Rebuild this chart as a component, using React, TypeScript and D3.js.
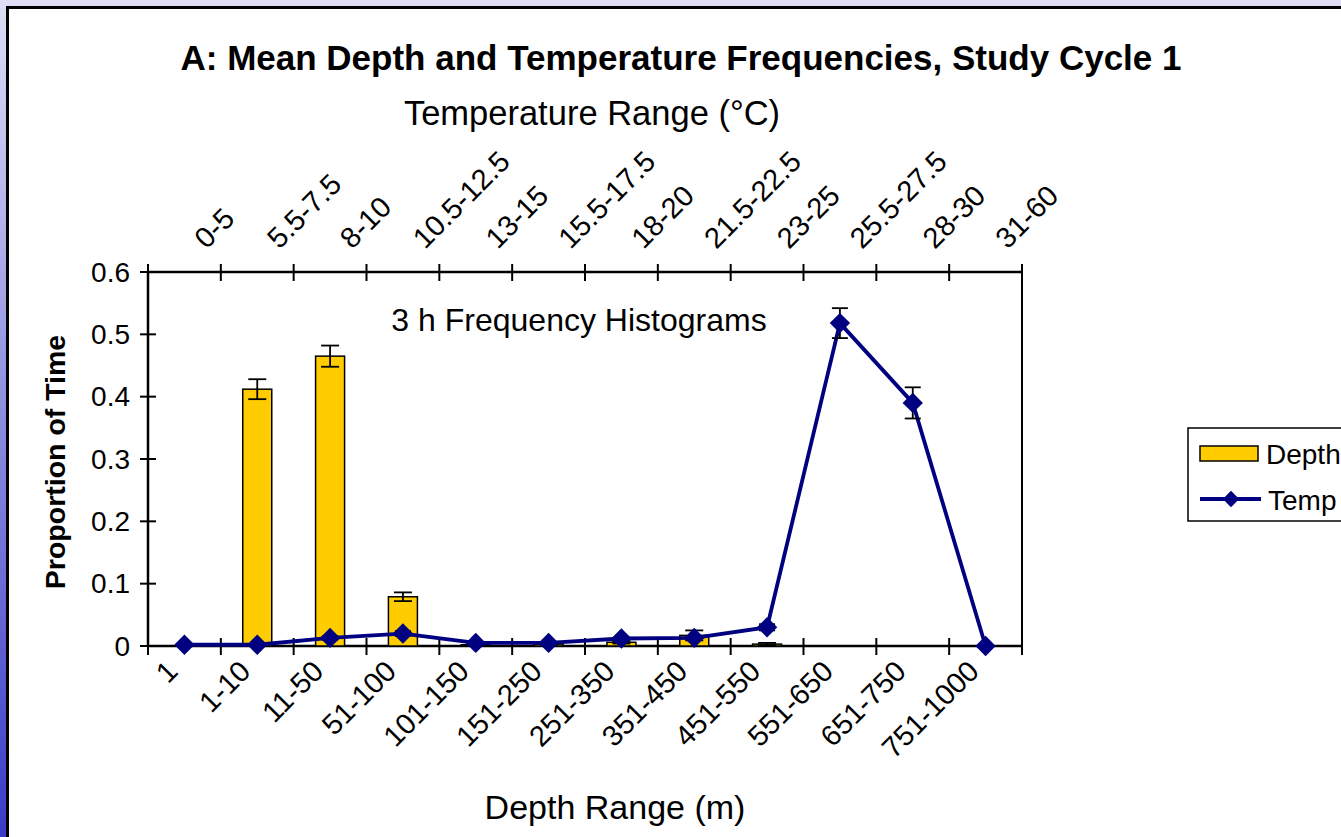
import { useEffect, useRef } from 'react';
import * as d3 from 'd3';

const depthRanges = ['1', '1-10', '11-50', '51-100', '101-150', '151-250', '251-350', '351-450', '451-550', '551-650', '651-750', '751-1000'];
const tempRanges = ['0-5', '5.5-7.5', '8-10', '10.5-12.5', '13-15', '15.5-17.5', '18-20', '21.5-22.5', '23-25', '25.5-27.5', '28-30', '31-60'];
const depthValues = [0, 0.412, 0.465, 0.079, 0.002, 0.003, 0.006, 0.017, 0.003, 0, 0, 0];
const depthErrors = [0, 0.016, 0.017, 0.007, 0.001, 0.001, 0.002, 0.008, 0.002, 0, 0, 0];
const tempValues = [0.002, 0.002, 0.013, 0.02, 0.005, 0.005, 0.012, 0.013, 0.03, 0.518, 0.39, 0];
const tempErrors = [0.001, 0.001, 0.003, 0.004, 0.001, 0.001, 0.002, 0.003, 0.005, 0.024, 0.025, 0];
const yTicks = [0, 0.1, 0.2, 0.3, 0.4, 0.5, 0.6];

const FONT = '"Liberation Sans", Arial, sans-serif';
const NAVY = '#000080';
const GOLD = '#FFCC00';

const App = () => {
  const svgRef = useRef<SVGSVGElement>(null);

  useEffect(() => {
    const svg = d3.select(svgRef.current);
    svg.selectAll('*').remove();
    const W = 1341, H = 837;
    const left = 148, right = 1022, top = 272, bottom = 646;

    // background gradient + white panel
    const grad = svg.append('defs').append('linearGradient')
      .attr('id', 'bg').attr('x1', 0).attr('y1', 0).attr('x2', 0).attr('y2', 1);
    grad.append('stop').attr('offset', '0%').attr('stop-color', '#dedef6');
    grad.append('stop').attr('offset', '100%').attr('stop-color', '#3a3ac8');
    svg.append('rect').attr('width', W).attr('height', H).attr('fill', 'url(#bg)');
    svg.append('rect').attr('x', 7.5).attr('y', 7.5).attr('width', W + 20).attr('height', H + 20)
      .attr('fill', '#fff').attr('stroke', '#000').attr('stroke-width', 3);

    const x = d3.scaleBand().domain(depthRanges).range([left, right]);
    const xt = d3.scaleBand().domain(tempRanges).range([left, right]);
    const y = d3.scaleLinear().domain([0, 0.6]).range([bottom, top]);
    const bw = x.bandwidth();

    const g = svg.append('g');

    // right frame line
    g.append('line').attr('x1', right).attr('x2', right).attr('y1', top).attr('y2', bottom)
      .attr('stroke', '#000').attr('stroke-width', 2);

    // bottom axis (depth)
    g.append('line').attr('x1', left).attr('x2', right).attr('y1', bottom).attr('y2', bottom)
      .attr('stroke', '#000').attr('stroke-width', 2.5);
    d3.range(depthRanges.length + 1).forEach(i => {
      const tx = left + i * bw;
      g.append('line').attr('x1', tx).attr('x2', tx).attr('y1', bottom - 8).attr('y2', bottom + 9)
        .attr('stroke', '#000').attr('stroke-width', 2);
    });
    depthRanges.forEach(d => {
      const cx = x(d)! + bw / 2 - 5;
      g.append('text').attr('transform', `translate(${cx}, 673) rotate(-45)`)
        .attr('text-anchor', 'end').attr('font-family', FONT).attr('font-size', 29).text(d);
    });

    // top axis (temperature)
    g.append('line').attr('x1', left).attr('x2', right).attr('y1', top).attr('y2', top)
      .attr('stroke', '#000').attr('stroke-width', 2.5);
    d3.range(tempRanges.length + 1).forEach(i => {
      const tx = left + i * bw;
      g.append('line').attr('x1', tx).attr('x2', tx).attr('y1', top - 8).attr('y2', top + 9)
        .attr('stroke', '#000').attr('stroke-width', 2);
    });
    tempRanges.forEach(d => {
      const cx = xt(d)! + bw / 2 + 22;
      g.append('text').attr('transform', `translate(${cx}, 250) rotate(-45)`)
        .attr('text-anchor', 'start').attr('font-family', FONT).attr('font-size', 29).text(d);
    });

    // left axis
    g.append('line').attr('x1', left).attr('x2', left).attr('y1', top).attr('y2', bottom)
      .attr('stroke', '#000').attr('stroke-width', 2.5);
    yTicks.forEach(t => {
      g.append('line').attr('x1', left - 8).attr('x2', left + 8).attr('y1', y(t)).attr('y2', y(t))
        .attr('stroke', '#000').attr('stroke-width', 2);
      g.append('text').attr('x', 130).attr('y', y(t)).attr('dy', '0.35em')
        .attr('text-anchor', 'end').attr('font-family', FONT).attr('font-size', 28)
        .text(t === 0 ? '0' : d3.format('.1f')(t));
    });

    // depth bars
    const barW = 29;
    depthRanges.forEach((d, i) => {
      const cx = x(d)! + bw / 2;
      const v = depthValues[i];
      if (v > 0) {
        g.append('rect').attr('x', cx - barW / 2).attr('y', y(v)).attr('width', barW)
          .attr('height', y(0) - y(v)).attr('fill', GOLD).attr('stroke', '#000').attr('stroke-width', 1.5);
      }
      const e = depthErrors[i];
      if (e > 0) {
        const eg = g.append('g').attr('stroke', '#000').attr('stroke-width', 1.8);
        eg.append('line').attr('x1', cx).attr('x2', cx).attr('y1', y(v + e)).attr('y2', y(v - e));
        eg.append('line').attr('x1', cx - 9).attr('x2', cx + 9).attr('y1', y(v + e)).attr('y2', y(v + e));
        eg.append('line').attr('x1', cx - 9).attr('x2', cx + 9).attr('y1', y(v - e)).attr('y2', y(v - e));
      }
    });

    // temperature line
    const line = d3.line<number>()
      .x((_, i) => xt(tempRanges[i])! + bw / 2)
      .y(v => y(v));
    g.append('path').datum(tempValues).attr('d', line).attr('fill', 'none')
      .attr('stroke', NAVY).attr('stroke-width', 3.8).attr('stroke-linejoin', 'round');

    tempValues.forEach((v, i) => {
      const cx = xt(tempRanges[i])! + bw / 2;
      const e = tempErrors[i];
      if (e > 0) {
        const lo = Math.max(0, v - e);
        const eg = g.append('g').attr('stroke', '#000').attr('stroke-width', 1.8);
        eg.append('line').attr('x1', cx).attr('x2', cx).attr('y1', y(v + e)).attr('y2', y(lo));
        eg.append('line').attr('x1', cx - 8).attr('x2', cx + 8).attr('y1', y(v + e)).attr('y2', y(v + e));
        eg.append('line').attr('x1', cx - 8).attr('x2', cx + 8).attr('y1', y(lo)).attr('y2', y(lo));
      }
    });

    const diamond = d3.symbol().type(d3.symbolDiamond2).size(264);
    tempValues.forEach((v, i) => {
      const cx = xt(tempRanges[i])! + bw / 2;
      g.append('path').attr('d', diamond()).attr('transform', `translate(${cx}, ${y(v)})`)
        .attr('fill', NAVY);
    });

    // titles
    svg.append('text').attr('x', 681).attr('y', 70).attr('text-anchor', 'middle')
      .attr('font-family', FONT).attr('font-weight', 'bold').attr('font-size', 35)
      .text('A: Mean Depth and Temperature Frequencies, Study Cycle 1');
    svg.append('text').attr('x', 592).attr('y', 125).attr('text-anchor', 'middle')
      .attr('font-family', FONT).attr('font-size', 34.5).text('Temperature Range (°C)');
    svg.append('text').attr('x', 615).attr('y', 819).attr('text-anchor', 'middle')
      .attr('font-family', FONT).attr('font-size', 34).text('Depth Range (m)');
    svg.append('text').attr('transform', 'translate(65, 462) rotate(-90)').attr('text-anchor', 'middle')
      .attr('font-family', FONT).attr('font-weight', 'bold').attr('font-size', 28.5).text('Proportion of Time');
    svg.append('text').attr('x', 579).attr('y', 331).attr('text-anchor', 'middle')
      .attr('font-family', FONT).attr('font-size', 32).text('3 h Frequency Histograms');

    // legend
    const lg = svg.append('g');
    lg.append('rect').attr('x', 1188).attr('y', 428).attr('width', 200).attr('height', 93)
      .attr('fill', '#fff').attr('stroke', '#000').attr('stroke-width', 1.5);
    lg.append('rect').attr('x', 1200).attr('y', 446).attr('width', 58).attr('height', 15)
      .attr('fill', GOLD).attr('stroke', '#000').attr('stroke-width', 1.5);
    lg.append('text').attr('x', 1266).attr('y', 464).attr('font-family', FONT).attr('font-size', 28).text('Depth');
    lg.append('line').attr('x1', 1200).attr('x2', 1261).attr('y1', 499).attr('y2', 499)
      .attr('stroke', NAVY).attr('stroke-width', 3.8);
    lg.append('path').attr('d', d3.symbol().type(d3.symbolDiamond2).size(170)())
      .attr('transform', 'translate(1231, 499)').attr('fill', NAVY);
    lg.append('text').attr('x', 1268).attr('y', 510).attr('font-family', FONT).attr('font-size', 28).text('Temp');
  }, []);

  return (
    <div style={{ position: 'absolute', left: 0, top: 0 }}>
      <svg ref={svgRef} width="1341" height="837" viewBox="0 0 1341 837" style={{ display: 'block' }}></svg>
    </div>
  );
};

export default App;
